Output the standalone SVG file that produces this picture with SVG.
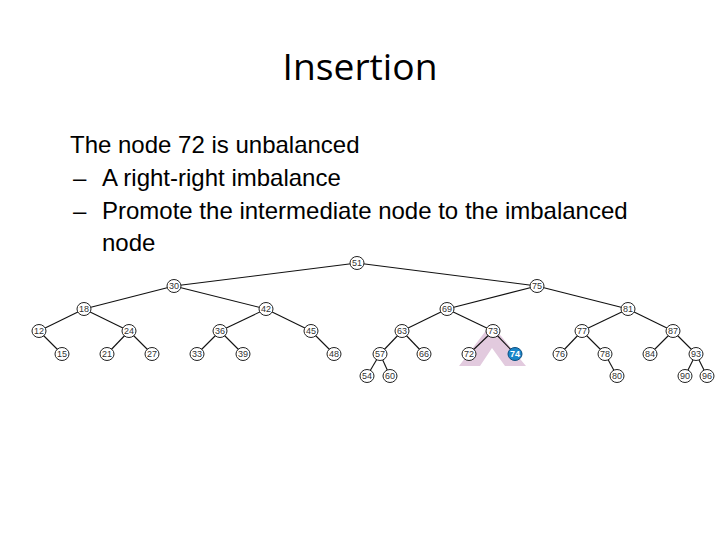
<svg xmlns="http://www.w3.org/2000/svg" width="720" height="540" viewBox="0 0 720 540">
<style>
.title{font-family:"Open Sans","Liberation Sans",sans-serif;font-size:36px;fill:#000}
.body{font-family:"Liberation Sans",Arial,sans-serif;font-size:24px;fill:#000}
.edge{stroke:#111;stroke-width:1.1;fill:none}
.node ellipse{fill:#fff;stroke:#222;stroke-width:1}
.node text{font-family:"Liberation Sans",Arial,sans-serif;font-size:9px;fill:#333;text-anchor:middle}
.hl ellipse{fill:#1a86c9;stroke:#0d4f80}
.hl text{fill:#fff;font-weight:bold}
</style>
<rect width="720" height="540" fill="#fff"/>
<text class="title" x="360" y="80" text-anchor="middle" textLength="155" lengthAdjust="spacingAndGlyphs">Insertion</text>
<text class="body" x="70" y="153">The node 72 is unbalanced</text>
<text class="body" x="73" y="186">–</text>
<text class="body" x="102" y="186">A right-right imbalance</text>
<text class="body" x="73" y="219">–</text>
<text class="body" x="102" y="219">Promote the intermediate node to the imbalanced</text>
<text class="body" x="102" y="251">node</text>
<polygon points="459,366 491,324 526,366 505,366 492,348 480,366" fill="#e2cade"/>
<g id="connectors" class="edge">
<line x1="357" y1="263" x2="174" y2="286"/>
<line x1="357" y1="263" x2="537" y2="286"/>
<line x1="174" y1="286" x2="84" y2="309"/>
<line x1="174" y1="286" x2="266" y2="309"/>
<line x1="537" y1="286" x2="447" y2="309"/>
<line x1="537" y1="286" x2="628" y2="309"/>
<line x1="84" y1="309" x2="39" y2="331"/>
<line x1="84" y1="309" x2="129" y2="331"/>
<line x1="266" y1="309" x2="220" y2="331"/>
<line x1="266" y1="309" x2="311" y2="331"/>
<line x1="447" y1="309" x2="402" y2="331"/>
<line x1="447" y1="309" x2="493" y2="331"/>
<line x1="628" y1="309" x2="582" y2="331"/>
<line x1="628" y1="309" x2="673" y2="331"/>
<line x1="39" y1="331" x2="62" y2="354"/>
<line x1="129" y1="331" x2="107" y2="354"/>
<line x1="129" y1="331" x2="152" y2="354"/>
<line x1="220" y1="331" x2="197" y2="354"/>
<line x1="220" y1="331" x2="243" y2="354"/>
<line x1="311" y1="331" x2="334" y2="354"/>
<line x1="402" y1="331" x2="380" y2="354"/>
<line x1="402" y1="331" x2="424" y2="354"/>
<line x1="493" y1="331" x2="469" y2="354"/>
<line x1="493" y1="331" x2="515" y2="354"/>
<line x1="582" y1="331" x2="560" y2="354"/>
<line x1="582" y1="331" x2="605" y2="354"/>
<line x1="673" y1="331" x2="650" y2="354"/>
<line x1="673" y1="331" x2="696" y2="354"/>
<line x1="380" y1="354" x2="367" y2="376"/>
<line x1="380" y1="354" x2="390" y2="376"/>
<line x1="605" y1="354" x2="617" y2="376"/>
<line x1="696" y1="354" x2="685" y2="376"/>
<line x1="696" y1="354" x2="707" y2="376"/>
</g>
<g id="n51" class="node"><ellipse cx="357" cy="263" rx="7" ry="6.5"/><text x="357" y="266.2">51</text></g>
<g id="n30" class="node"><ellipse cx="174" cy="286" rx="7" ry="6.5"/><text x="174" y="289.2">30</text></g>
<g id="n75" class="node"><ellipse cx="537" cy="286" rx="7" ry="6.5"/><text x="537" y="289.2">75</text></g>
<g id="n18" class="node"><ellipse cx="84" cy="309" rx="7" ry="6.5"/><text x="84" y="312.2">18</text></g>
<g id="n42" class="node"><ellipse cx="266" cy="309" rx="7" ry="6.5"/><text x="266" y="312.2">42</text></g>
<g id="n69" class="node"><ellipse cx="447" cy="309" rx="7" ry="6.5"/><text x="447" y="312.2">69</text></g>
<g id="n81" class="node"><ellipse cx="628" cy="309" rx="7" ry="6.5"/><text x="628" y="312.2">81</text></g>
<g id="n12" class="node"><ellipse cx="39" cy="331" rx="7" ry="6.5"/><text x="39" y="334.2">12</text></g>
<g id="n24" class="node"><ellipse cx="129" cy="331" rx="7" ry="6.5"/><text x="129" y="334.2">24</text></g>
<g id="n36" class="node"><ellipse cx="220" cy="331" rx="7" ry="6.5"/><text x="220" y="334.2">36</text></g>
<g id="n45" class="node"><ellipse cx="311" cy="331" rx="7" ry="6.5"/><text x="311" y="334.2">45</text></g>
<g id="n63" class="node"><ellipse cx="402" cy="331" rx="7" ry="6.5"/><text x="402" y="334.2">63</text></g>
<g id="n73" class="node"><ellipse cx="493" cy="331" rx="7" ry="6.5"/><text x="493" y="334.2">73</text></g>
<g id="n77" class="node"><ellipse cx="582" cy="331" rx="7" ry="6.5"/><text x="582" y="334.2">77</text></g>
<g id="n87" class="node"><ellipse cx="673" cy="331" rx="7" ry="6.5"/><text x="673" y="334.2">87</text></g>
<g id="n15" class="node"><ellipse cx="62" cy="354" rx="7" ry="6.5"/><text x="62" y="357.2">15</text></g>
<g id="n21" class="node"><ellipse cx="107" cy="354" rx="7" ry="6.5"/><text x="107" y="357.2">21</text></g>
<g id="n27" class="node"><ellipse cx="152" cy="354" rx="7" ry="6.5"/><text x="152" y="357.2">27</text></g>
<g id="n33" class="node"><ellipse cx="197" cy="354" rx="7" ry="6.5"/><text x="197" y="357.2">33</text></g>
<g id="n39" class="node"><ellipse cx="243" cy="354" rx="7" ry="6.5"/><text x="243" y="357.2">39</text></g>
<g id="n48" class="node"><ellipse cx="334" cy="354" rx="7" ry="6.5"/><text x="334" y="357.2">48</text></g>
<g id="n57" class="node"><ellipse cx="380" cy="354" rx="7" ry="6.5"/><text x="380" y="357.2">57</text></g>
<g id="n66" class="node"><ellipse cx="424" cy="354" rx="7" ry="6.5"/><text x="424" y="357.2">66</text></g>
<g id="n72" class="node"><ellipse cx="469" cy="354" rx="7" ry="6.5"/><text x="469" y="357.2">72</text></g>
<g id="n74" class="node hl"><ellipse cx="515" cy="354" rx="7" ry="6.5"/><text x="515" y="357.2">74</text></g>
<g id="n76" class="node"><ellipse cx="560" cy="354" rx="7" ry="6.5"/><text x="560" y="357.2">76</text></g>
<g id="n78" class="node"><ellipse cx="605" cy="354" rx="7" ry="6.5"/><text x="605" y="357.2">78</text></g>
<g id="n84" class="node"><ellipse cx="650" cy="354" rx="7" ry="6.5"/><text x="650" y="357.2">84</text></g>
<g id="n93" class="node"><ellipse cx="696" cy="354" rx="7" ry="6.5"/><text x="696" y="357.2">93</text></g>
<g id="n54" class="node"><ellipse cx="367" cy="376" rx="7" ry="6.5"/><text x="367" y="379.2">54</text></g>
<g id="n60" class="node"><ellipse cx="390" cy="376" rx="7" ry="6.5"/><text x="390" y="379.2">60</text></g>
<g id="n80" class="node"><ellipse cx="617" cy="376" rx="7" ry="6.5"/><text x="617" y="379.2">80</text></g>
<g id="n90" class="node"><ellipse cx="685" cy="376" rx="7" ry="6.5"/><text x="685" y="379.2">90</text></g>
<g id="n96" class="node"><ellipse cx="707" cy="376" rx="7" ry="6.5"/><text x="707" y="379.2">96</text></g>
</svg>
